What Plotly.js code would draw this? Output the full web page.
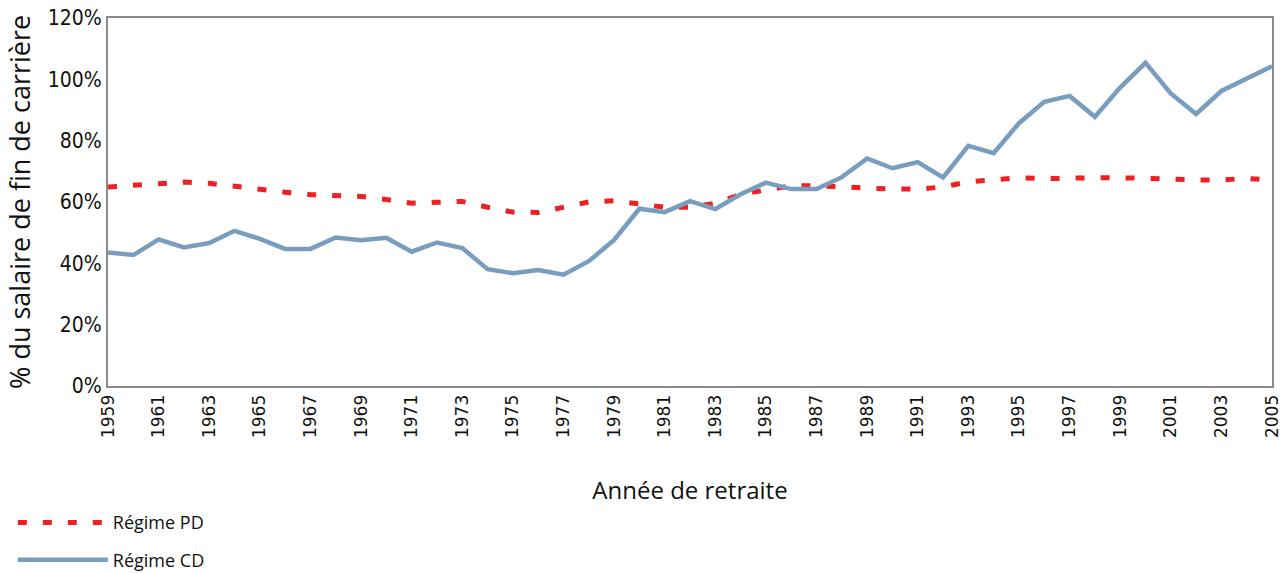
<!DOCTYPE html>
<html>
<head>
<meta charset="utf-8">
<script src="https://cdn.plot.ly/plotly-3.0.1.min.js"></script>
<style>html,body{margin:0;padding:0;background:#fff;}#chart{width:1283px;height:573px;}</style>
</head>
<body>
<div id="chart"></div>
<script>
const years = [1959,1960,1961,1962,1963,1964,1965,1966,1967,1968,1969,1970,1971,1972,1973,1974,1975,1976,1977,1978,1979,1980,1981,1982,1983,1984,1985,1986,1987,1988,1989,1990,1991,1992,1993,1994,1995,1996,1997,1998,1999,2000,2001,2002,2003,2004,2005];
const regimePD = [64.9,65.4,66.0,66.5,66.1,65.1,63.8,63.2,62.4,62.1,61.8,60.8,59.6,59.9,60.2,58.3,56.7,56.6,58.1,60.0,60.4,59.2,58.3,58.3,59.6,62.5,64.1,65.3,65.3,64.9,64.3,64.2,64.2,64.9,66.6,67.4,67.9,67.6,67.9,67.9,67.9,67.9,67.5,67.2,67.2,67.7,67.1];
const regimeCD = [43.5,42.7,47.8,45.2,46.6,50.6,48.0,44.7,44.7,48.4,47.5,48.3,43.8,46.8,45.0,38.1,36.8,37.8,36.3,40.7,47.6,57.8,56.7,60.3,57.7,62.5,66.3,64.2,64.2,68.1,74.2,71.0,73.0,68.0,78.3,75.9,85.7,92.7,94.6,87.8,97.3,105.4,95.4,88.7,96.2,100.3,104.3];
const seriesNames = ['Régime PD','Régime CD'];
const xTitle = 'Année de retraite';
const yTitle = '% du salaire de fin de carrière';

const traces = [
  {x: years, y: regimePD, name: seriesNames[0], type: 'scatter', mode: 'lines',
   legendgroup: 'a', line: {color: '#ee2024', width: 5, dash: '9px,16px'}},
  {x: years, y: regimeCD, name: seriesNames[1], type: 'scatter', mode: 'lines',
   legendgroup: 'b', line: {color: '#789dbf', width: 4.5}}
];

const layout = {
  width: 1283, height: 573,
  margin: {l: 108, r: 11, t: 18, b: 187, autoexpand: false},
  paper_bgcolor: '#fff', plot_bgcolor: '#fff',
  font: {family: 'Open Sans, sans-serif', color: '#111'},
  showlegend: true,
  legend: {xref: 'container', yref: 'container', x: 0.01, xanchor: 'left', y: 0.12, yanchor: 'top',
    font: {size: 18, family: 'Open Sans, sans-serif', color: '#111'},
    traceorder: 'grouped', tracegroupgap: 11, itemwidth: 90, bgcolor: 'rgba(0,0,0,0)'},
  xaxis: {
    range: [1959, 2005], tickmode: 'linear', tick0: 1959, dtick: 2,
    tickangle: -90, ticks: '', showgrid: false, zeroline: false,
    showline: true, mirror: true, linecolor: '#8a8a8a', linewidth: 2,
    tickfont: {family: 'DejaVu Sans, sans-serif', size: 17, color: '#111'},
    title: {text: xTitle, font: {size: 24, family: 'Open Sans, sans-serif', color: '#111'}, standoff: 45},
    automargin: false
  },
  yaxis: {
    range: [0, 120], tickmode: 'linear', tick0: 0, dtick: 20, ticksuffix: '%',
    ticks: '', showgrid: false, zeroline: false,
    showline: true, mirror: true, linecolor: '#8a8a8a', linewidth: 2,
    tickfont: {family: 'Liberation Sans Narrow, DejaVu Sans Condensed, sans-serif', size: 21, color: '#111'},
    automargin: false
  },
  annotations: [{
    text: yTitle, xref: 'paper', yref: 'paper', x: -0.0765, y: 0.5,
    xanchor: 'center', yanchor: 'middle', textangle: -90, showarrow: false,
    font: {size: 27, family: 'Open Sans, sans-serif', color: '#111'}
  }]
};

Plotly.newPlot('chart', traces, layout, {displayModeBar: false, staticPlot: true});
</script>
</body>
</html>
